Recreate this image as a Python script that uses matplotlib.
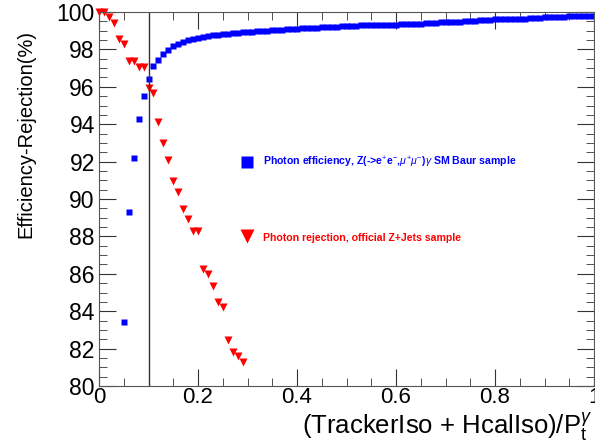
import numpy as np
import matplotlib
matplotlib.use("Agg")
import matplotlib.pyplot as plt
from matplotlib.ticker import MultipleLocator, FuncFormatter

plt.rcParams['font.family'] = ['Liberation Sans', 'DejaVu Sans']
plt.rcParams['mathtext.fontset'] = 'custom'
plt.rcParams['mathtext.rm'] = 'Liberation Sans'
plt.rcParams['mathtext.it'] = 'Liberation Sans:italic'
plt.rcParams['mathtext.bf'] = 'Liberation Sans:bold'

# photon efficiency (blue squares), cut value step 0.01
eff_x = [round(0.05 + 0.01 * i, 2) for i in range(96)]
eff_y = [83.4, 89.3, 92.2, 94.3, 95.5, 96.4, 97.1, 97.45, 97.75, 97.97,
         98.16, 98.27, 98.4, 98.5, 98.58, 98.63, 98.68, 98.72, 98.75, 98.78,
         98.82, 98.84, 98.86, 98.89, 98.91, 98.93, 98.95, 98.97, 98.99, 99.0,
         99.02, 99.04, 99.06, 99.08, 99.09, 99.1, 99.12, 99.13, 99.14, 99.16,
         99.18, 99.19, 99.21, 99.22, 99.23, 99.24, 99.25, 99.27, 99.28, 99.29,
         99.3, 99.31, 99.31, 99.32, 99.32, 99.33, 99.34, 99.35, 99.35, 99.36,
         99.37, 99.39, 99.41, 99.43, 99.45, 99.46, 99.47, 99.48, 99.49, 99.5,
         99.51, 99.53, 99.55, 99.57, 99.59, 99.6, 99.61, 99.62, 99.63, 99.64,
         99.64, 99.65, 99.66, 99.67, 99.69, 99.71, 99.72, 99.73, 99.74, 99.75,
         99.76, 99.77, 99.78, 99.79, 99.79, 99.8]

# photon rejection (red triangles)
rej_x = [round(0.01 * i, 2) for i in range(30)]
rej_y = [100.0, 100.0, 99.75, 99.43, 98.56, 98.29, 97.38, 97.38, 97.08, 97.08,
         95.95, 95.65, 94.13, 92.99, 92.09, 90.96, 90.36, 89.47, 88.93, 88.31,
         88.31, 86.27, 85.99, 85.36, 84.49, 84.22, 82.46, 81.83, 81.59, 81.3]

cut_value = 0.1

fig = plt.figure(figsize=(5.95, 4.45), dpi=100)
ax = fig.add_axes([99/595, 59/445, 495/595, 374/445])

ax.plot(eff_x, eff_y, 's', color='#0000ff', ms=4.5, mec='none', clip_on=False)
ax.plot(rej_x, rej_y, 'v', color='#ff0000', ms=5.2, mec='none', clip_on=False)
ax.axvline(cut_value, color='#333333', lw=1.0)

ax.set_xlim(0, 1)
ax.set_ylim(80, 100)
ax.xaxis.set_major_locator(MultipleLocator(0.2))
ax.xaxis.set_minor_locator(MultipleLocator(0.05))
ax.yaxis.set_major_locator(MultipleLocator(2))
ax.yaxis.set_minor_locator(MultipleLocator(0.5))
ax.xaxis.set_major_formatter(FuncFormatter(lambda v, p: '%g' % round(v, 2)))
ax.tick_params(which='both', direction='in', top=True, right=True,
               color='#333333')
ax.tick_params(which='major', length=12)
ax.tick_params(which='minor', length=6)
ax.tick_params(axis='x', labelsize=16, pad=1)
ax.tick_params(axis='y', labelsize=16.5, pad=3)
for s in ax.spines.values():
    s.set_color('#555555')

# legend entries
ax.plot([0.299], [91.98], 's', color='#0000ff', ms=9, mec='none')
ax.text(0.331, 91.95, r'Photon efficiency, Z(->e$^{+}$e$^{-}$,$\mu^{+}\mu^{-}$)$\gamma$ SM Baur sample',
        color='#0000ff', fontsize=7.6, fontweight='bold', va='center')
ax.plot([0.299], [88.0], 'v', color='#ff0000', ms=10, mec='none')
ax.text(0.331, 87.9, 'Photon rejection, official Z+Jets sample',
        color='#ff0000', fontsize=7.6, fontweight='bold', va='center')

fig.text(0.995, 0.026, r'(TrackerIso + HcalIso)/P$_{\mathrm{t}}^{\gamma}$',
         fontsize=18.5, ha='right', va='baseline')
fig.text(0.043, 0.70, 'Efficiency-Rejection(%)', fontsize=14.5,
         rotation=90, ha='center', va='center')

fig.savefig('out.png', dpi=100)
